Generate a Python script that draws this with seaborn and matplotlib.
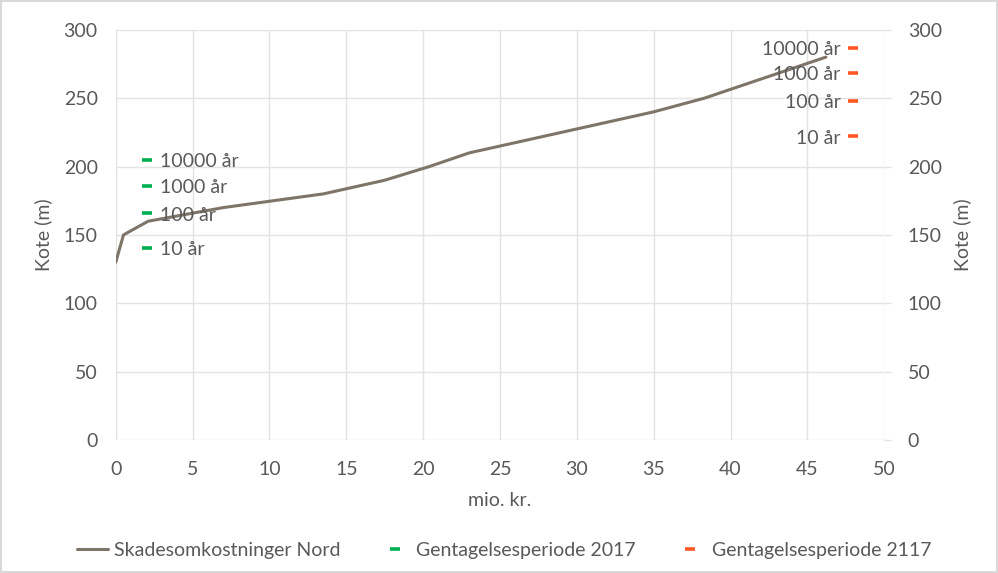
import seaborn as sns
import matplotlib.pyplot as plt
import pandas as pd
from matplotlib.lines import Line2D

# skadesomkostninger (mio. kr.) mod kote (m)
cost = [0, 0.5, 2.1, 7.0, 13.5, 17.5, 20.4, 23.0, 27.0, 31.0, 35.0, 38.3, 46.2]
kote = [130, 150, 160, 170, 180, 190, 200, 210, 220, 230, 240, 250, 280]

periods = ['10 år', '100 år', '1000 år', '10000 år']
x_2017 = [2, 2, 2, 2]
level_2017 = [140.5, 166, 186, 205]
x_2117 = [48, 48, 48, 48]
level_2117 = [222, 248, 268.5, 287]

grey = '#595959'
line_col = '#7F7468'
green = '#00B050'
orange = '#FF5722'
fs = 14

sns.set_style('white')
plt.rcParams['font.family'] = ['Lato', 'DejaVu Sans']

fig = plt.figure(figsize=(9.98, 5.73), dpi=100)
fig.patch.set_edgecolor('#D9D9D9')
fig.patch.set_linewidth(1.5)
ax = fig.add_axes([0.116, 0.232, 0.77, 0.716])

df = pd.DataFrame({'cost': cost, 'kote': kote})
sns.lineplot(data=df, x='cost', y='kote', color=line_col, linewidth=2.2, ax=ax)

d17 = pd.DataFrame({'x': x_2017, 'y': level_2017, 'label': periods})
d21 = pd.DataFrame({'x': x_2117, 'y': level_2117, 'label': periods})
sns.scatterplot(data=d17, x='x', y='y', marker='_', s=45, linewidth=2.6, color=green, ax=ax, zorder=3)
sns.scatterplot(data=d21, x='x', y='y', marker='_', s=45, linewidth=2.6, color=orange, ax=ax, zorder=3)

for _, r in d17.iterrows():
    ax.text(r['x'] + 0.85, r['y'] - 1.5, r['label'], ha='left', va='center', fontsize=fs, color=grey)
for _, r in d21.iterrows():
    ax.text(r['x'] - 0.85, r['y'] - 1.5, r['label'], ha='right', va='center', fontsize=fs, color=grey)

ax.set_xlim(0, 50)
ax.set_ylim(0, 300)
ax.set_xticks(range(0, 51, 5))
ax.set_yticks(range(0, 301, 50))
ax.grid(True, color='#E3E3E3', linewidth=1)
ax.set_axisbelow(True)
for s in ax.spines.values():
    s.set_visible(False)
ax.tick_params(axis='y', colors=grey, labelsize=fs, length=0, pad=13)
ax.tick_params(axis='x', colors=grey, labelsize=fs, length=0, pad=15)
ax.set_xlabel('mio. kr.', color=grey, fontsize=fs, labelpad=10)
ax.set_ylabel('Kote (m)', color=grey, fontsize=fs, labelpad=8)

ax2 = ax.twinx()
ax2.set_ylim(0, 300)
ax2.set_yticks(range(0, 301, 50))
for s in ax2.spines.values():
    s.set_visible(False)
ax2.tick_params(colors=grey, labelsize=fs, length=5, width=1, color='#E3E3E3', pad=12)
ax2.set_ylabel('Kote (m)', color=grey, fontsize=fs, labelpad=8)

handles = [
    Line2D([], [], color=line_col, linewidth=2.2),
    Line2D([], [], color=green, marker='_', markersize=6.5, markeredgewidth=2.6, linestyle='none'),
    Line2D([], [], color=orange, marker='_', markersize=6.5, markeredgewidth=2.6, linestyle='none'),
]
labels = ['Skadesomkostninger Nord', 'Gentagelsesperiode 2017', 'Gentagelsesperiode 2117']
leg = fig.legend(handles, labels, loc='center', bbox_to_anchor=(0.505, 0.04), ncol=3,
                 frameon=False, fontsize=fs, handlelength=1.6, columnspacing=2.0, handletextpad=0.3)
for t in leg.get_texts():
    t.set_color(grey)

fig.savefig('out.png', dpi=100)
